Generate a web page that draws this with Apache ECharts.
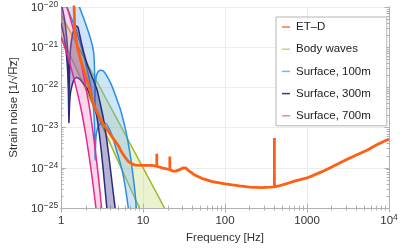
<!DOCTYPE html>
<html><head><meta charset="utf-8">
<script src="https://cdn.jsdelivr.net/npm/echarts@6/dist/echarts.min.js"></script>
<style>html,body{margin:0;padding:0;background:#fff}#c{width:403px;height:249px}</style>
</head><body><div id="c"></div>
<script>
// ---- axis ticks ----
const xTicks = [1, 10, 100, 1000, 10000];
const yTicks = [1e-25, 1e-24, 1e-23, 1e-22, 1e-21, 1e-20];
const legendNames = ['ET–D', 'Body waves', 'Surface, 100m', 'Surface, 300m', 'Surface, 700m'];

// ---- ET-D sensitivity (frequency Hz, log10 strain) ----
const etF = [1.40,1.44,1.47,1.6,1.75,1.9,2.2,2.5,2.9,3.3,3.8,4.35,5.0,5.45,6.0,6.6,7.3,8.0,10,13,14.7,14.7,14.7,17,20,21.2,21.2,21.2,23,25,27.5,31,33,36,42,52,70,100,150,200,280,350,400,400,400,450,550,700,1000,1500,2000,3000,4000,5400,7000,10000];
const etLog = [-19.3,-20.0,-20.6,-21.05,-21.35,-21.57,-22.0,-22.44,-22.72,-22.92,-23.1,-23.28,-23.45,-23.6,-23.73,-23.84,-23.9,-23.93,-23.94,-23.94,-23.96,-23.65,-23.96,-24.0,-24.03,-24.04,-23.72,-24.04,-24.08,-24.08,-24.05,-24.0,-24.0,-24.07,-24.17,-24.26,-24.34,-24.4,-24.45,-24.48,-24.49,-24.48,-24.47,-23.26,-24.47,-24.45,-24.4,-24.33,-24.25,-24.1,-23.98,-23.8,-23.68,-23.56,-23.43,-23.28];

// ---- Body waves band ----
const bodyHiF = [1, 2, 5, 10, 20];
const bodyHiLog = [-20.19, -21.34, -22.85, -24.0, -25.15];
const bodyLoF = [1, 2, 5, 10];
const bodyLoLog = [-20.72, -22.05, -23.85, -25.2];

// ---- Surface 100m band ----
const s100aF = [1.4,1.6,1.9,2.2,2.4,2.5,2.56,2.59,2.62,2.7,2.85,3.05,3.3,3.7,4.2,4.7,5.2,5.8,6.4,7.0,7.6,8.0,8.3];
const s100aLog = [-19.3,-19.88,-20.3,-20.68,-20.95,-21.15,-21.6,-22.45,-21.9,-21.7,-21.6,-21.57,-21.6,-21.75,-21.98,-22.25,-22.5,-22.85,-23.25,-23.7,-24.25,-24.65,-25.05];
const s100bF = [1.0,1.2,1.5,1.8,2.1,2.3,2.45,2.55,2.6,2.65,2.75,2.95,3.25,3.6,4.2,4.8,5.3,5.8,6.3,6.7];
const s100bLog = [-19.7,-20.05,-20.55,-21.05,-21.6,-22.0,-22.4,-22.9,-23.8,-23.3,-23.05,-22.92,-22.87,-22.92,-23.2,-23.6,-23.9,-24.25,-24.7,-25.1];

// ---- Surface 300m band ----
const s300aF = [1.0,1.1,1.18,1.22,1.245,1.27,1.30,1.36,1.44,1.55,1.7,1.9,2.1,2.3,2.5,2.7,2.9,3.1,3.3,3.5,3.65];
const s300aLog = [-20.4,-20.8,-21.35,-21.9,-22.87,-22.4,-22.15,-21.95,-21.8,-21.75,-21.8,-21.92,-22.05,-22.25,-22.45,-22.68,-23.1,-23.6,-24.15,-24.7,-25.1];
const s300bF = [1.0,1.1,1.18,1.22,1.245,1.27,1.3,1.36,1.43,1.5,1.6,1.75,1.9,2.1,2.4,2.74,3.0,3.3,3.6,3.9,4.2,4.5,4.7];
const s300bLog = [-19.9,-20.3,-20.85,-21.4,-22.2,-21.5,-21.05,-20.75,-20.55,-20.47,-20.5,-20.85,-21.15,-21.45,-21.75,-22.05,-22.4,-22.8,-23.3,-23.85,-24.4,-24.9,-25.2];

// ---- Surface 700m band ----
const s700aF = [1.0,1.2,1.4,1.6,1.8,2.0,2.2,2.4,2.6,2.8,3.0,3.2];
const s700aLog = [-19.57,-20.05,-20.53,-21.01,-21.5,-22.0,-22.45,-22.98,-23.52,-24.08,-24.65,-25.22];
const s700bF = [1.0,1.2,1.4,1.6,1.8,2.0,2.2,2.4,2.6,2.7];
const s700bLog = [-20.75,-21.22,-21.70,-22.18,-22.66,-23.18,-23.72,-24.27,-24.83,-25.1];

const FONT = '"Liberation Sans", Arial, sans-serif';
const pairs = (f, l) => f.map((v, i) => [v, Math.pow(10, l[i])]);

function band(name, fa, la, fb, lb, lineColor, fillColor, z) {
  const A = pairs(fa, la), B = pairs(fb, lb);
  return {
    type: 'custom', name: name, z: z, silent: true,
    data: [[10, 1e-22]],
    renderItem: function (params, api) {
      const cs = params.coordSys;
      const pa = A.map(p => api.coord(p));
      const pb = B.map(p => api.coord(p));
      const poly = pa.concat(pb.slice().reverse());
      const clip = { type: 'rect', shape: { x: cs.x, y: cs.y, width: cs.width, height: cs.height } };
      return {
        type: 'group',
        clipPath: clip,
        children: [
          { type: 'polygon', shape: { points: poly }, style: { fill: fillColor } },
          { type: 'polyline', shape: { points: pa, smooth: 0.2 }, style: { stroke: lineColor, lineWidth: 1.5, fill: null } },
          { type: 'polyline', shape: { points: pb, smooth: 0.2 }, style: { stroke: lineColor, lineWidth: 1.5, fill: null } }
        ]
      };
    }
  };
}

const minorX = [], minorY = [];
for (const d of [1, 10, 100, 1000]) for (let k = 2; k <= 9; k++) minorX.push(k * d);
for (const d of [1e-25, 1e-24, 1e-23, 1e-22, 1e-21]) for (let k = 2; k <= 9; k++) minorY.push(k * d);

const supRich = {
  b: { fontSize: 11.5, fontFamily: FONT, color: '#333', lineHeight: 14, verticalAlign: 'bottom' },
  s: { fontSize: 8.5, fontFamily: FONT, color: '#333', lineHeight: 14, verticalAlign: 'top' }
};
const frameColor = '#b0b0b0';

function xAx(pos, minor, labels) {
  return {
    type: 'log', logBase: 10, min: 1, max: 10000, position: pos,
    axisLine: { show: true, lineStyle: { color: frameColor, width: 1 } },
    axisTick: { show: true, inside: true, length: minor ? 2.5 : 4.5, lineStyle: { color: frameColor }, customValues: minor ? minorX : xTicks },
    axisLabel: labels ? {
      show: true, margin: 5, customValues: xTicks,
      formatter: v => { const e = Math.round(Math.log10(v)); return e < 4 ? '{b|' + Math.round(v) + '}' : '{b|10}{s|' + e + '}'; },
      rich: supRich
    } : { show: false },
    splitLine: { show: labels, lineStyle: { color: '#ececec', width: 1 } },
    name: labels ? 'Frequency [Hz]' : '', nameLocation: 'middle', nameGap: 22,
    nameTextStyle: { fontSize: 11.5, fontFamily: FONT, color: '#333' }
  };
}
function yAx(pos, minor, labels) {
  return {
    type: 'log', logBase: 10, min: 1e-25, max: 1e-20, position: pos,
    axisLine: { show: true, lineStyle: { color: frameColor, width: 1 } },
    axisTick: { show: true, inside: true, length: minor ? 2.5 : 4.5, lineStyle: { color: frameColor }, customValues: minor ? minorY : yTicks },
    axisLabel: labels ? {
      show: true, margin: 3, customValues: yTicks,
      formatter: v => { const e = Math.round(Math.log10(v)); return '{b|10}{s|\u2212' + Math.abs(e) + '}'; },
      rich: supRich
    } : { show: false },
    splitLine: { show: labels, lineStyle: { color: '#ececec', width: 1 } },
    name: labels ? 'Strain noise [1/\u221AH\u0305z\u0305]' : '', nameLocation: 'middle', nameGap: 40, nameRotate: 90,
    nameTextStyle: { fontSize: 11.5, fontFamily: FONT, color: '#333' }
  };
}

const chart = echarts.init(document.getElementById('c'), null, { renderer: 'canvas' });
chart.setOption({
  animation: false,
  backgroundColor: '#fff',
  grid: { left: 57, right: 14, top: 6, bottom: 36 },
  xAxis: [xAx('bottom', false, true), xAx('bottom', true, false), xAx('top', false, false), xAx('top', true, false)],
  yAxis: [yAx('left', false, true), yAx('left', true, false), yAx('right', false, false), yAx('right', true, false)],
  legend: {
    orient: 'vertical', left: 276, top: 17,
    padding: [3, 16, 3, 6], itemGap: 8.2, itemWidth: 8, itemHeight: 1.5, icon: 'rect',
    backgroundColor: '#fff', borderColor: '#b4b4b4', borderWidth: 1,
    textStyle: { fontSize: 11.5, fontFamily: FONT, color: '#222', lineHeight: 14, padding: [0, 0, 0, 1] },
    data: [
      { name: legendNames[0], itemStyle: { color: '#f47a40' } },
      { name: legendNames[1], itemStyle: { color: '#bcd48a' } },
      { name: legendNames[2], itemStyle: { color: '#7ab4ea' } },
      { name: legendNames[3], itemStyle: { color: '#3b3a82' } },
      { name: legendNames[4], itemStyle: { color: '#ee84b8' } }
    ]
  },
  series: [
    band(legendNames[1], bodyHiF, bodyHiLog, bodyLoF, bodyLoLog, '#9cbb2a', 'rgba(190,215,110,0.32)', 2),
    band(legendNames[2], s100aF, s100aLog, s100bF, s100bLog, '#2a8fe4', 'rgba(120,180,238,0.36)', 3),
    band(legendNames[3], s300aF, s300aLog, s300bF, s300bLog, '#2c2a7c', 'rgba(80,75,155,0.42)', 4),
    band(legendNames[4], s700aF, s700aLog, s700bF, s700bLog, '#e8288c', 'rgba(242,120,185,0.30)', 5),
    {
      type: 'line', name: legendNames[0], z: 10, showSymbol: false, smooth: false,
      data: pairs(etF, etLog),
      lineStyle: { color: '#ff5f15', width: 2.8 }, itemStyle: { color: '#ff5f15' }
    }
  ]
});
</script></body></html>
